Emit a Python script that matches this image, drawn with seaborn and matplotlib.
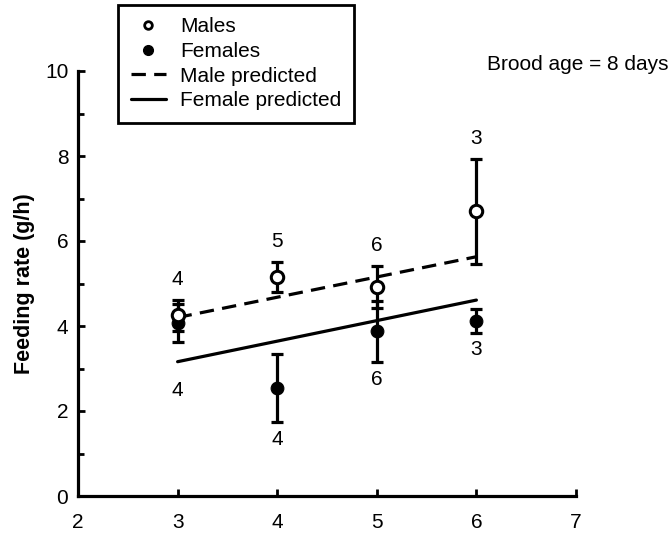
import numpy as np
import pandas as pd
import seaborn as sns
import matplotlib
matplotlib.use("Agg")
import matplotlib.pyplot as plt
from matplotlib.lines import Line2D

# Feeding rate by brood size, brood age 8 days
brood_size = [3, 4, 5, 6]
male_rate = [4.25, 5.15, 4.92, 6.70]
male_se = [0.37, 0.36, 0.50, 1.23]
male_n = [4, 5, 6, 3]
female_rate = [4.07, 2.55, 3.88, 4.12]
female_se = [0.45, 0.80, 0.72, 0.28]
female_n = [4, 4, 6, 3]

# Model predictions (end points of the fitted lines)
pred_size = [3, 6]
male_pred = [4.20, 5.63]
female_pred = [3.16, 4.61]

sns.set_theme(style="ticks")
plt.rcParams["font.family"] = ["Liberation Sans", "DejaVu Sans"]
plt.rcParams["text.color"] = "black"
plt.rcParams["axes.labelcolor"] = "black"
plt.rcParams["xtick.color"] = "black"
plt.rcParams["ytick.color"] = "black"

fig = plt.figure(figsize=(6.71, 5.37), dpi=100)
ax = fig.add_axes([78 / 671, 41 / 537, 498 / 671, 425 / 537])

pts = pd.DataFrame({
    "size": brood_size * 2,
    "rate": male_rate + female_rate,
    "se": male_se + female_se,
    "sex": ["Males"] * 4 + ["Females"] * 4,
})
pred = pd.DataFrame({
    "size": pred_size * 2,
    "rate": male_pred + female_pred,
    "sex": ["Male predicted"] * 2 + ["Female predicted"] * 2,
})

lw_line = 2.3
dash = (0, (4.5, 2.6))
sns.lineplot(data=pred[pred.sex == "Male predicted"], x="size", y="rate", ax=ax,
             color="black", lw=lw_line, linestyle=dash, legend=False)
sns.lineplot(data=pred[pred.sex == "Female predicted"], x="size", y="rate", ax=ax,
             color="black", lw=lw_line, legend=False)

# Error bars
for sex in ["Females", "Males"]:
    d = pts[pts.sex == sex]
    ax.errorbar(d["size"], d["rate"], yerr=d["se"], fmt="none", ecolor="black",
                elinewidth=2.3, capsize=4.5, capthick=2.3, zorder=3)

# Point markers
sns.scatterplot(data=pts[pts.sex == "Females"], x="size", y="rate", ax=ax,
                color="black", edgecolor="black", s=85, marker="o", zorder=4, legend=False)
sns.scatterplot(data=pts[pts.sex == "Males"], x="size", y="rate", ax=ax,
                color="white", edgecolor="black", linewidth=2.2, s=80, marker="o",
                zorder=5, legend=False)

# Sample sizes above male bars and below female bars
num_fs = 15
for x, y, e, n in zip(brood_size, male_rate, male_se, male_n):
    ax.annotate(str(n), (x, y + e), xytext=(0, 14.5), textcoords="offset points",
                ha="center", va="center", fontsize=num_fs)
female_offsets = [-35, -13, -13, -12]
for x, y, e, n, off in zip(brood_size, female_rate, female_se, female_n, female_offsets):
    ax.annotate(str(n), (x, y - e), xytext=(0, off), textcoords="offset points",
                ha="center", va="center", fontsize=num_fs)

ax.set_xlim(2, 7)
ax.set_ylim(0, 10)
ax.set_xticks([2, 3, 4, 5, 6, 7])
ax.set_yticks([0, 2, 4, 6, 8, 10])
ax.set_yticks([1, 3, 5, 7, 9], minor=True)
ax.tick_params(axis="both", which="major", direction="in", length=5, width=2,
               labelsize=15)
ax.tick_params(axis="y", which="minor", direction="in", length=4, width=2)
ax.tick_params(axis="x", pad=12)
ax.tick_params(axis="y", pad=7)
for side in ["left", "bottom"]:
    ax.spines[side].set_linewidth(2.3)
    ax.spines[side].set_color("black")
sns.despine(ax=ax)

ax.set_xlabel("")
ax.set_ylabel("Feeding rate (g/h)", fontsize=15.5, fontweight="bold", labelpad=7)

fig.text(487 / 671, 1 - 65 / 537, "Brood age = 8 days", fontsize=15,
         ha="left", va="center")

handles = [
    Line2D([], [], ls="none", marker="o", markersize=5.5, markerfacecolor="white",
           markeredgecolor="black", markeredgewidth=2),
    Line2D([], [], ls="none", marker="o", markersize=7, color="black"),
    Line2D([], [], color="black", lw=lw_line, linestyle=dash),
    Line2D([], [], color="black", lw=lw_line),
]
labels = ["Males", "Females", "Male predicted", "Female predicted"]
leg = fig.legend(handles, labels, loc="upper left", bbox_to_anchor=(118 / 671, 1 - 5 / 537),
                 frameon=True, fancybox=False, framealpha=1, edgecolor="black",
                 fontsize=15, handlelength=1.7, handletextpad=0.7, labelspacing=0.27,
                 borderpad=0.6, borderaxespad=0)
leg.get_frame().set_linewidth(2)

fig.savefig("out.png", dpi=100)
